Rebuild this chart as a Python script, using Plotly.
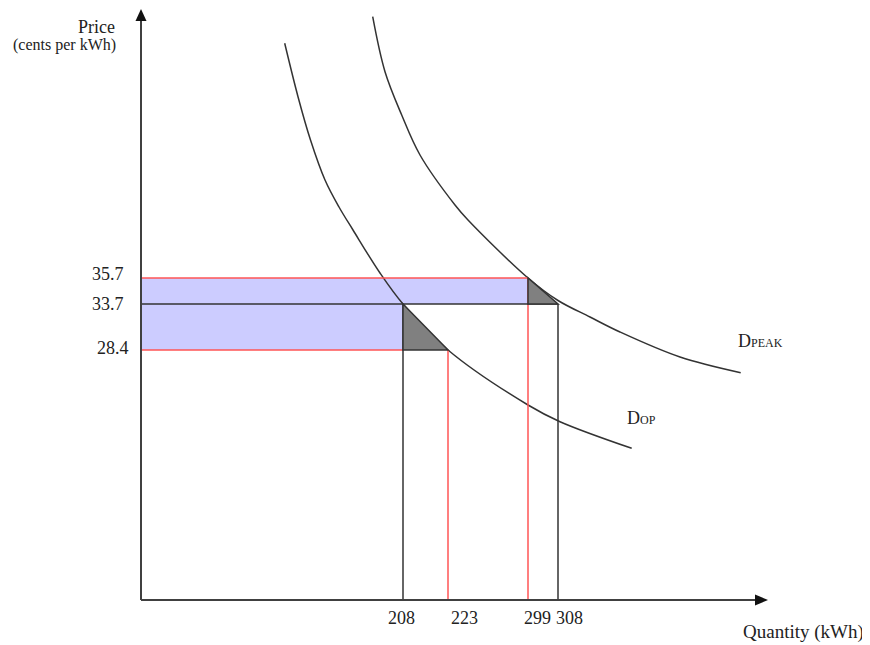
import plotly.graph_objects as go

# ---- data ----
price_labels = ["35.7", "33.7", "28.4"]
quantity_labels = ["208", "223", "299", "308"]

# demand curves, points (schematic diagram units)
d_op_x = [143.7, 157, 169.5, 184, 198, 212, 239, 262, 307, 387, 419, 490.7]
d_op_y = [556.7, 503.3, 460, 420, 393, 370, 327, 296, 250, 195, 178.3, 151.7]
d_peak_x = [231.7, 244, 260.7, 279, 314, 327, 387, 417, 449, 479, 539, 599.7]
d_peak_y = [583.3, 528.3, 485, 445, 395, 380, 322, 299.5, 283, 268, 243, 227.3]

# schematic positions of the marked levels on each axis
price_pos = {"35.7": 322, "33.7": 296, "28.4": 250}
qty_pos = {"208": 262, "223": 307, "299": 387, "308": 417}

FONT = "Liberation Serif, Times New Roman, serif"
RED = "rgb(255,85,85)"
DARK = "#333333"
BLUE = "rgb(204,204,255)"
GRAY = "rgb(128,128,128)"

fig = go.Figure()

p357, p337, p284 = (price_pos[k] for k in price_labels)
q208, q223, q299, q308 = (qty_pos[k] for k in quantity_labels)

shapes = []
# shaded rectangles
shapes.append(dict(type="rect", x0=0, x1=q299, y0=p337, y1=p357, fillcolor=BLUE, line_width=0, layer="below"))
shapes.append(dict(type="rect", x0=0, x1=q208, y0=p284, y1=p337, fillcolor=BLUE, line_width=0, layer="below"))

def seg(x0, y0, x1, y1, color, w=1.5):
    shapes.append(dict(type="line", x0=x0, y0=y0, x1=x1, y1=y1, line=dict(color=color, width=w)))

# red lines
seg(0, p357, q299, p357, RED)
seg(q299, p357, q299, 0, RED)
seg(0, p284, q208, p284, RED)
seg(q223, p284, q223, 0, RED)
# black lines
seg(0, p337, q308, p337, DARK)
seg(q208, p337, q208, 0, DARK)
seg(q308, p337, q308, 0, DARK)

# gray triangles
shapes.append(dict(type="path", path=f"M {q208},{p337} L {q208},{p284} L {q223},{p284} Z",
                   fillcolor=GRAY, line=dict(color=DARK, width=1.5)))
shapes.append(dict(type="path", path=f"M {q299},{p357} L {q299},{p337} L {q308},{p337} Z",
                   fillcolor=GRAY, line=dict(color=DARK, width=1.5)))

# axes with arrowheads
AX = "#404040"
seg(0, 0, 0, 582, AX, 2)
seg(0, 0, 616, 0, AX, 2)
shapes.append(dict(type="path", path="M -5.5,579 L 5.5,579 L 0,591 Z", fillcolor="#111111", line_width=0))
shapes.append(dict(type="path", path="M 614,-5.5 L 614,5.5 L 627,0 Z", fillcolor="#111111", line_width=0))

fig.update_layout(shapes=shapes)

fig.add_trace(go.Scatter(x=d_op_x, y=d_op_y, mode="lines", line=dict(color=DARK, width=1.5, shape="spline", smoothing=1.0),
                         hoverinfo="skip", showlegend=False))
fig.add_trace(go.Scatter(x=d_peak_x, y=d_peak_y, mode="lines", line=dict(color=DARK, width=1.5, shape="spline", smoothing=1.0),
                         hoverinfo="skip", showlegend=False))

ann = []
# price labels
price_label_xy = {"35.7": (-15, 326), "33.7": (-15, 296), "28.4": (-10, 252.5)}
for lab in price_labels:
    x, y = price_label_xy[lab]
    ann.append(dict(x=x, y=y, text=lab, showarrow=False, xanchor="right", yanchor="middle",
                    font=dict(family=FONT, size=18, color="#222")))
# quantity labels
qty_label_x = {"208": 260, "223": 323, "299": 396, "308": 428}
for lab in quantity_labels:
    ann.append(dict(x=qty_label_x[lab], y=-18, text=lab, showarrow=False, xanchor="center", yanchor="middle",
                    font=dict(family=FONT, size=18, color="#222")))

ann.append(dict(x=-24, y=573, text="Price", showarrow=False, xanchor="right", yanchor="middle",
                font=dict(family=FONT, size=18, color="#222")))
ann.append(dict(x=-23, y=555, text="(cents per kWh)", showarrow=False, xanchor="right", yanchor="middle",
                font=dict(family=FONT, size=16, color="#222")))
ann.append(dict(x=725, y=-32, text="Quantity (kWh)", showarrow=False, xanchor="right", yanchor="middle",
                font=dict(family=FONT, size=19, color="#222")))
ann.append(dict(x=484, y=182, text="D<span style='font-size:12px'>OP</span>", showarrow=False,
                xanchor="left", yanchor="middle", font=dict(family=FONT, size=18, color="#222")))
ann.append(dict(x=595, y=259.5, text="D<span style='font-size:12px'>PEAK</span>", showarrow=False,
                xanchor="left", yanchor="middle", font=dict(family=FONT, size=18, color="#222")))

# the page places the figure 8px from the top-left corner; size and ranges compensate
fig.update_layout(
    annotations=ann,
    width=862, height=637,
    margin=dict(l=0, r=0, t=0, b=0),
    paper_bgcolor="white", plot_bgcolor="white",
    xaxis=dict(range=[-133, 729], visible=False, fixedrange=True),
    yaxis=dict(range=[-45, 592], visible=False, fixedrange=True),
)

fig.write_html("out.html")
